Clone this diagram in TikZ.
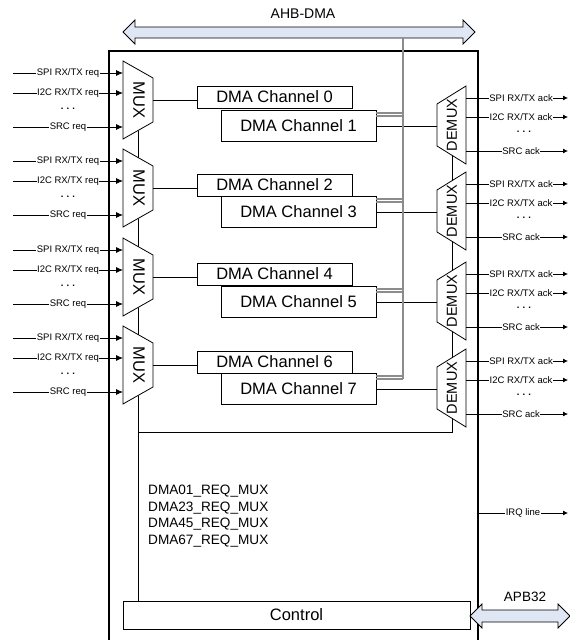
\documentclass[tikz,border=0pt]{standalone}
\usepackage{fontspec}
\setmainfont{Liberation Sans}
\usetikzlibrary{positioning}
\usetikzlibrary{arrows.meta}

\definecolor{busfill}{RGB}{222,231,243}
\definecolor{busgrey}{RGB}{140,140,140}

\tikzset{
	every node/.style = {font=\fontsize{9.5}{11}\selectfont, inner sep=1pt}
}
\tikzset{
	chanbox/.style = {draw, fill=white, line width=0.8pt, outer sep=0pt, minimum width=155, font=\fontsize{16.5}{19}\selectfont},
	muxbox/.style = {draw, fill=white, line width=0.8pt},
	wire/.style = {line width=0.8pt},
	sigin/.style = {wire, -{Latex[length=7pt,width=6pt]}},
	sigout/.style = {wire, -{Latex[length=5pt,width=5pt]}},
	siglabel/.style = {fill=white, inner sep=0.5pt},
	ahbline/.style = {line width=1.5pt, color=busgrey},
	busarrow/.style = {draw, fill=busfill, line width=0.8pt}
}

\begin{document}
\begin{tikzpicture}[x=1pt, y=-1pt]
	\useasboundingbox (0,0) rectangle (570,640);

	% Outer frame of the DMA block
	\node[draw, line width=1.3pt, outer sep=0pt, inner sep=0pt, minimum width=369, minimum height=592, anchor=north west] (frame) at (109,51) {};

	% AHB-DMA bus on top
	\draw[busarrow] (123,32) -- (135,20) -- (135,27) -- (463,27) -- (463,20) -- (475,32)
		-- (463,44) -- (463,38) -- (135,38) -- (135,44) -- cycle;
	\node (ahblabel) at (303,14) {\fontsize{14}{16}\selectfont AHB-DMA};
	\coordinate (ahbtap) at (403,38);

	% One group = request MUX, two channels, ack DEMUX
	\foreach \i/\m/\d in {0/100/125, 1/188/211, 2/277/301, 3/365/388}{
		\pgfmathtruncatemacro{\ca}{2*\i}
		\pgfmathtruncatemacro{\cb}{2*\i+1}

		% request MUX
		\draw[muxbox] (123,\m-39) -- (153,\m-22) -- (153,\m+22) -- (123,\m+39) -- cycle;
		\node[rotate=-90, font=\fontsize{16.5}{19}\selectfont] (mux\i) at (139,\m) {MUX};
		\coordinate (mux\i-t) at (138,\m-30.5);
		\coordinate (mux\i-b) at (138,\m+30.5);
		\coordinate (mux\i-o) at (153,\m);

		% requests coming in
		\foreach \k/\dy/\lab in {1/-27/{SPI RX/TX req}, 2/-7/{I2C RX/TX req}, 3/27/{SRC req}}{
			\coordinate (req\i\k) at (13,\m+\dy);
			\coordinate (mi\i\k) at (123,\m+\dy);
			\draw[sigin] (req\i\k) -- node[siglabel] {\lab} (mi\i\k);
		}
		\node (rd\i) at (68,\m+9) {\textbf{.\,\,.\,\,.}};

		% the two channels
		\node[chanbox, minimum height=22] (ch\ca) at (274.5,\m-3) {DMA Channel \ca};
		\node[chanbox, minimum height=31] (ch\cb) at (298.5,\d+1) {DMA Channel \cb};
		\draw[wire] (mux\i-o) -- (mux\i-o -| ch\ca.west);

		% taps to the AHB bus
		\draw[ahbline] (ch\cb.east |- 0,\d-12) -- (403,\d-12);
		\draw[ahbline] (ch\cb.east |- 0,\d-9) -- (403,\d-9);

		% ack DEMUX
		\draw[muxbox] (437,\d-21) -- (466,\d-39) -- (466,\d+39) -- (437,\d+21) -- cycle;
		\node[rotate=90, font=\fontsize{14.5}{17}\selectfont] (demux\i) at (452,\d) {DEMUX};
		\coordinate (demux\i-t) at (452,\d-30.3);
		\coordinate (demux\i-b) at (452,\d+30.3);
		\coordinate (demux\i-i) at (437,\d+1);
		\draw[wire] (ch\cb.east) -- (demux\i-i);

		% acks going out
		\foreach \k/\dy/\lab in {1/-27/{SPI RX/TX ack}, 2/-8/{I2C RX/TX ack}, 3/26/{SRC ack}}{
			\coordinate (dm\i\k) at (466,\d+\dy);
			\coordinate (ack\i\k) at (568,\d+\dy);
			\draw[sigout] (dm\i\k) -- node[siglabel, pos=0.54] {\lab} (ack\i\k);
		}
		\node (ad\i) at (524,\d+7) {\textbf{.\,\,.\,\,.}};
	}

	% AHB bus line
	\draw[ahbline] (ahbtap) -- (403,379);

	% select chain through the MUXes and DEMUXes
	\foreach \i in {0,1,2}{
		\pgfmathtruncatemacro{\j}{\i+1}
		\draw[wire] (mux\i-b) -- (mux\j-t);
		\draw[wire] (demux\i-b) -- (demux\j-t);
	}

	% Control block and APB32
	\node[chanbox, minimum width=347, minimum height=28] (control) at (296.5,615) {Control};
	\coordinate (selbend) at (138,432);
	\draw[wire] (mux3-b) -- (mux3-b |- control.north);
	\draw[wire] (selbend) -- (selbend -| demux3-b) -- (demux3-b);

	\draw[busarrow] (470,616) -- (482,604) -- (482,610) -- (558,610) -- (558,604) -- (570,616)
		-- (558,628) -- (558,622) -- (482,622) -- (482,628) -- cycle;
	\node (apblabel) at (525,597) {\fontsize{13.5}{15}\selectfont APB32};

	% request mux registers
	\node[anchor=west, align=left, font=\fontsize{13.6}{16.7}\selectfont] (reqmux) at (147,516)
		{DMA01\_REQ\_MUX\\DMA23\_REQ\_MUX\\DMA45\_REQ\_MUX\\DMA67\_REQ\_MUX};

	% interrupt
	\coordinate (irq) at (568,513);
	\draw[sigout] (frame.east |- irq) -- node[siglabel] {IRQ line} (irq);
\end{tikzpicture}
\end{document}
